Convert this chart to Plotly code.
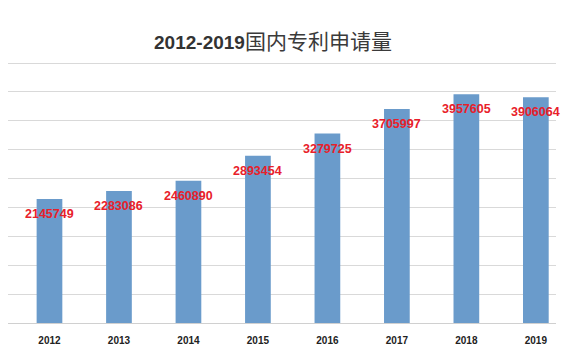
import plotly.graph_objects as go

years = ["2012", "2013", "2014", "2015", "2016", "2017", "2018", "2019"]
applications = [2145749, 2283086, 2460890, 2893454, 3279725, 3705997, 3957605, 3906064]
title_num = "2012-2019"
title_cn = "国内专利申请量"

fig = go.Figure()
fig.add_trace(go.Bar(
    x=years, y=applications,
    marker=dict(color="#6A9BCB", line=dict(width=0)),
    width=0.37,
    hoverinfo="x+y",
))

for i, v in enumerate(applications):
    fig.add_annotation(
        x=i, y=v, xref="x", yref="y", text=f"<b>{v}</b>", showarrow=False,
        yanchor="middle", xanchor="center", yshift=-15,
        font=dict(family="Liberation Sans, Arial, sans-serif", size=12.5, color="#E8202A"),
    )

fig.update_layout(
    width=562, height=349,
    margin=dict(l=0, r=14, t=54, b=34),
    paper_bgcolor="white", plot_bgcolor="white",
    showlegend=False,
    title=dict(
        text=(f"<b>{title_num}</b>"
              f"<span style='font-size:21px;font-family:Noto Sans CJK SC;fill:#3a3a3a'>{title_cn}</span>"),
        x=0.4715, xanchor="center", y=0.9006, yanchor="middle",
        font=dict(family="Liberation Sans, Noto Sans CJK SC, sans-serif", size=19, color="#333333"),
    ),
    xaxis=dict(
        type="category", range=[-0.597, 7.29],
        showgrid=False, zeroline=False, showline=False,
        ticks="outside", ticklen=8, tickcolor="rgba(0,0,0,0)",
        tickfont=dict(family="Liberation Sans, Arial, sans-serif", size=10, color="#222222"),
        tickprefix="<b>", ticksuffix="</b>",
    ),
    yaxis=dict(
        range=[0, 4518000], dtick=500000,
        showgrid=True, gridcolor="#D9D9D9", gridwidth=1,
        zeroline=True, zerolinecolor="#D0D0D0", zerolinewidth=1,
        showticklabels=False, showline=False,
    ),
)

fig.write_html("out.html")
